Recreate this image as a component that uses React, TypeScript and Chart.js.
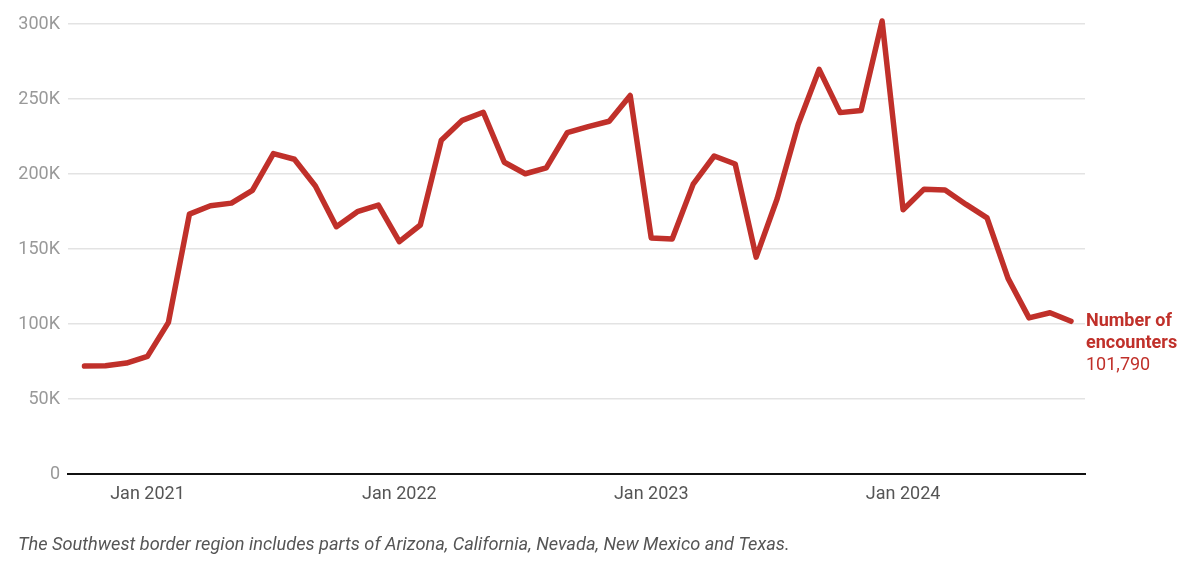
import React, { useEffect, useRef } from "react";
import { Chart, registerables } from "chart.js";

Chart.register(...registerables);

// Months from Oct 2020 to Sep 2024
const months: string[] = [
  "Oct 2020", "Nov 2020", "Dec 2020",
  "Jan 2021", "Feb 2021", "Mar 2021", "Apr 2021", "May 2021", "Jun 2021", "Jul 2021", "Aug 2021", "Sep 2021", "Oct 2021", "Nov 2021", "Dec 2021",
  "Jan 2022", "Feb 2022", "Mar 2022", "Apr 2022", "May 2022", "Jun 2022", "Jul 2022", "Aug 2022", "Sep 2022", "Oct 2022", "Nov 2022", "Dec 2022",
  "Jan 2023", "Feb 2023", "Mar 2023", "Apr 2023", "May 2023", "Jun 2023", "Jul 2023", "Aug 2023", "Sep 2023", "Oct 2023", "Nov 2023", "Dec 2023",
  "Jan 2024", "Feb 2024", "Mar 2024", "Apr 2024", "May 2024", "Jun 2024", "Jul 2024", "Aug 2024", "Sep 2024",
];

const encounters: number[] = [
  71929, 72113, 73994,
  78414, 101099, 173277, 178795, 180597, 189034, 213593, 209840, 192001, 164837, 174845, 179253,
  154874, 166010, 222574, 235785, 241136, 207834, 200162, 204087, 227547, 231529, 235173, 252315,
  157358, 156630, 193249, 211992, 206690, 144556, 183503, 232972, 269735, 240925, 242399, 301981,
  176205, 189913, 189359, 179737, 170716, 130415, 104101, 107473, 101790,
];

const xTickMonths: string[] = ["Jan 2021", "Jan 2022", "Jan 2023", "Jan 2024"];
const yTicks: number[] = [0, 50000, 100000, 150000, 200000, 250000, 300000];

const seriesLabel: string[] = ["Number of", "encounters"];
const footnote =
  "The Southwest border region includes parts of Arizona, California, Nevada, New Mexico and Texas.";

const RED = "#c0302a";
const FONT = "Roboto, 'Noto Sans', sans-serif";

export default function App() {
  const ref = useRef<HTMLCanvasElement | null>(null);

  useEffect(() => {
    document.body.style.margin = "0";
    const canvas = ref.current;
    if (!canvas) return;

    const endLabel = {
      id: "endLabel",
      afterDatasetsDraw(chart: any) {
        const meta = chart.getDatasetMeta(0);
        const last = meta.data[meta.data.length - 1];
        if (!last) return;
        const ctx = chart.ctx;
        ctx.save();
        ctx.fillStyle = RED;
        ctx.textAlign = "left";
        ctx.textBaseline = "middle";
        const x = last.x + 15;
        const y = last.y;
        ctx.font = `bold 18px ${FONT}`;
        seriesLabel.forEach((t, i) => ctx.fillText(t, x, y + i * 22));
        ctx.font = `18px ${FONT}`;
        const v = encounters[encounters.length - 1].toLocaleString("en-US");
        ctx.fillText(v, x, y + seriesLabel.length * 22);
        // footnote
        ctx.fillStyle = "#555555";
        ctx.font = `italic 18.2px ${FONT}`;
        ctx.textBaseline = "middle";
        ctx.fillText(footnote, 18, 545);
        ctx.restore();
      },
    };

    const chart = new Chart(canvas, {
      type: "line",
      data: {
        datasets: [
          {
            label: "Number of encounters",
            data: encounters.map((v, i) => ({ x: i, y: v })),
            borderColor: RED,
            borderWidth: 5.5,
            pointRadius: 0,
            tension: 0,
            clip: false,
            borderCapStyle: "round",
            borderJoinStyle: "round",
          },
        ],
      },
      options: {
        animation: false,
        responsive: false,
        maintainAspectRatio: false,
        layout: { padding: { top: 24, right: 115, bottom: 51, left: 0 } },
        plugins: { legend: { display: false }, tooltip: { enabled: false } },
        scales: {
          x: {
            type: "linear",
            min: -0.786,
            max: 47.667,
            afterBuildTicks: (scale: any) => {
              scale.ticks = xTickMonths.map((m) => ({ value: months.indexOf(m) }));
            },
            afterFit: (scale: any) => {
              scale.height = 40;
            },
            grid: { display: false, drawTicks: false },
            border: { display: true, color: "#111111", width: 2 },
            ticks: {
              padding: 10,
              color: "#555555",
              font: { family: FONT, size: 18 },
              maxRotation: 0,
              autoSkip: false,
              callback: (v: any) => months[Math.round(Number(v))] ?? "",
            },
          },
          y: {
            type: "linear",
            min: 0,
            max: 300000,
            afterBuildTicks: (scale: any) => {
              scale.ticks = yTicks.map((v) => ({ value: v }));
            },
            afterFit: (scale: any) => {
              scale.width = 68;
            },
            grid: { color: "#e3e3e3", lineWidth: 1.5, drawTicks: false },
            border: { display: false },
            ticks: {
              padding: 8,
              color: "#999999",
              font: { family: FONT, size: 18 },
              callback: (v: any) => (Number(v) === 0 ? "0" : `${Number(v) / 1000}K`),
            },
          },
        },
      },
      plugins: [endLabel],
    });

    return () => chart.destroy();
  }, []);

  return (
    <div style={{ position: "relative", width: 1200, height: 565, background: "#fff" }}>
      <canvas ref={ref} width={1200} height={565} style={{ width: 1200, height: 565, display: "block" }} />
    </div>
  );
}
